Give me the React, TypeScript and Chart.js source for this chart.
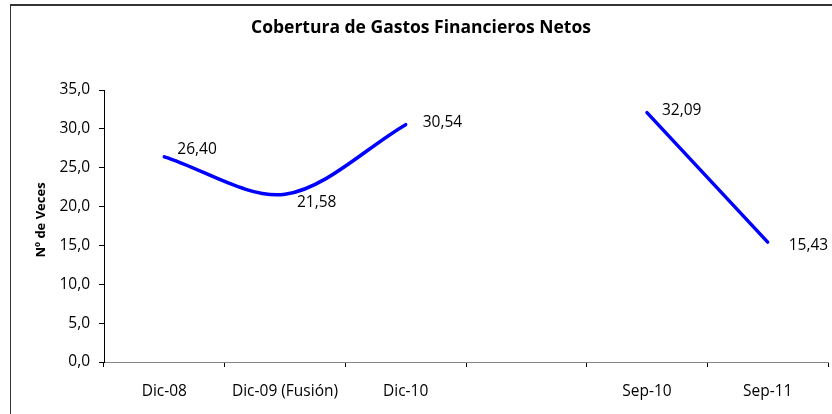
import { useEffect, useRef } from "react";
import { Chart, registerables } from "chart.js";

Chart.register(...registerables);

const categories = ["Dic-08", "Dic-09 (Fusión)", "Dic-10", "", "Sep-10", "Sep-11"];
const coverage: (number | null)[] = [26.4, 21.58, 30.54, null, 32.09, 15.43];
const yMin = 0;
const yMax = 35;
const yStep = 5;
const chartTitle = "Cobertura de Gastos Financieros Netos";
const yAxisTitle = "Nº de Veces";

const FONT = "'Open Sans', sans-serif";

const labelOffsets: ([number, number] | null)[] = [
  [13, -7],
  [12, 8],
  [17, -2],
  null,
  [15, -2],
  [21, 3],
];

const fmt = (v: number, d: number) => v.toFixed(d).replace(".", ",");

const framePlugin = {
  id: "frame",
  beforeDraw(chart: any) {
    const ctx = chart.ctx;
    ctx.save();
    ctx.fillStyle = "#ffffff";
    ctx.fillRect(0, 0, chart.width, chart.height);
    ctx.strokeStyle = "#333333";
    ctx.lineWidth = 2;
    ctx.beginPath();
    ctx.moveTo(10, 5);
    ctx.lineTo(chart.width, 5);
    ctx.stroke();
    ctx.lineWidth = 1;
    ctx.beginPath();
    ctx.moveTo(10.5, 5);
    ctx.lineTo(10.5, chart.height);
    ctx.stroke();
    ctx.restore();
  },
  afterDraw(chart: any) {
    const ctx = chart.ctx;
    ctx.save();
    ctx.fillStyle = "#000000";
    ctx.textAlign = "center";
    ctx.textBaseline = "middle";
    ctx.font = `bold 17.5px ${FONT}`;
    ctx.fillText(chartTitle, 421, 28);
    ctx.translate(41, 220);
    ctx.rotate(-Math.PI / 2);
    ctx.font = `bold 13px ${FONT}`;
    ctx.fillText(yAxisTitle, 0, 0);
    ctx.restore();
  },
};

const labelsPlugin = {
  id: "valueLabels",
  afterDatasetsDraw(chart: any) {
    const ctx = chart.ctx;
    const meta = chart.getDatasetMeta(0);
    ctx.save();
    ctx.fillStyle = "#000000";
    ctx.font = `15.5px ${FONT}`;
    ctx.textAlign = "left";
    ctx.textBaseline = "middle";
    meta.data.forEach((pt: any, i: number) => {
      const v = coverage[i];
      const off = labelOffsets[i];
      if (v === null || v === undefined || !off) return;
      ctx.fillText(fmt(v, 2), pt.x + off[0], pt.y + off[1]);
    });
    ctx.restore();
  },
};

export default function App() {
  const ref = useRef<HTMLCanvasElement>(null);
  useEffect(() => {
    document.body.style.margin = "0";
    const chart = new Chart(ref.current as HTMLCanvasElement, {
      type: "line",
      data: {
        labels: categories,
        datasets: [
          {
            data: coverage,
            borderColor: "#0000FF",
            borderWidth: 3.5,
            borderCapStyle: "round",
            pointRadius: 0,
            tension: 0.32,
            spanGaps: false,
            fill: false,
          },
        ],
      },
      options: {
        animation: false,
        responsive: false,
        devicePixelRatio: 1,
        layout: { padding: { top: 90, right: 4, left: 0, bottom: 0 } },
        plugins: {
          legend: { display: false },
          tooltip: { enabled: false },
          title: { display: false },
        },
        scales: {
          x: {
            offset: true,
            grid: {
              offset: true,
              drawOnChartArea: false,
              drawTicks: true,
              tickLength: 5,
              color: "#000000",
            },
            border: { color: "#868686", width: 1 },
            ticks: {
              font: { family: FONT, size: 15.5 },
              color: "#000000",
              padding: 15,
              maxRotation: 0,
              autoSkip: false,
            },
            afterFit: (s: any) => {
              s.height = 52;
            },
          },
          y: {
            min: yMin,
            max: yMax,
            ticks: {
              stepSize: yStep,
              font: { family: FONT, size: 15.5 },
              color: "#000000",
              padding: 9,
              callback: (v: any) => fmt(Number(v), 1),
            },
            grid: {
              drawOnChartArea: false,
              drawTicks: true,
              tickLength: 5,
              color: "#000000",
            },
            border: { color: "#000000", width: 1 },
            afterFit: (s: any) => {
              s.width = 104;
            },
          },
        },
      },
      plugins: [framePlugin, labelsPlugin],
    } as any);
    return () => chart.destroy();
  }, []);
  return (
    <div style={{ width: 832, height: 414 }}>
      <canvas ref={ref} width={832} height={414} style={{ display: "block" }} />
    </div>
  );
}
